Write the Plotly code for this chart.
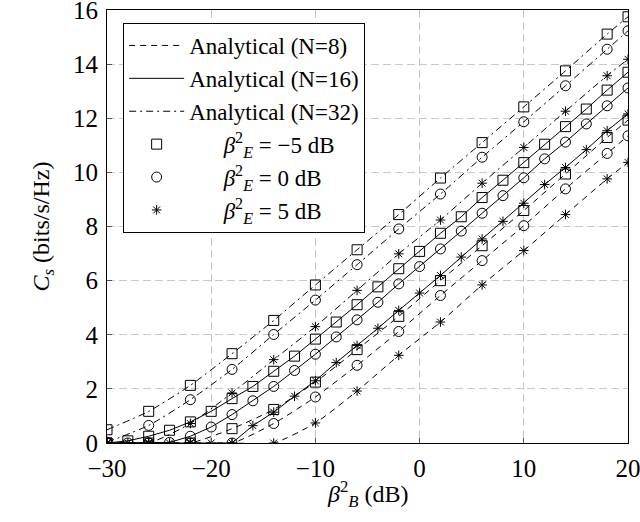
import plotly.graph_objects as go

# --- Data ---
# N=16 curves have a mark every 2 dB
x_dense = [-30, -28, -26, -24, -22, -20, -18, -16, -14, -12, -10, -8, -6,
           -4, -2, 0, 2, 4, 6, 8, 10, 12, 14, 16, 18, 20]
n16_sq = [0, 0.08, 0.25, 0.47, 0.78, 1.17, 1.64, 2.09, 2.65, 3.21, 3.84, 4.47, 5.11,
          5.77, 6.44, 7.08, 7.75, 8.36, 9.07, 9.71, 10.36, 11.04, 11.69, 12.34, 13.04, 13.70]
n16_circ = [0, 0, 0, 0.02, 0.25, 0.59, 1.05, 1.56, 2.09, 2.68, 3.28, 3.92, 4.55,
            5.20, 5.88, 6.52, 7.17, 7.83, 8.49, 9.14, 9.80, 10.50, 11.12, 11.79, 12.46, 13.12]
n16_star = [0, 0, 0, 0, 0, 0, 0, 0.64, 1.14, 1.73, 2.30, 2.97, 3.60,
            4.24, 4.90, 5.54, 6.19, 6.87, 7.54, 8.19, 8.86, 9.55, 10.18, 10.84, 11.54, 12.16]

# N=8 and N=32 curves: marks every 4 dB plus the end point
x_sparse = [-30, -26, -22, -18, -14, -10, -6, -2, 2, 6, 10, 14, 18, 20]
n8_sq = [0, 0, 0, 0.53, 1.24, 2.25, 3.45, 4.68, 6.00, 7.29, 8.59, 9.94, 11.29, 11.93]
n8_circ = [0, 0, 0, 0, 0.72, 1.70, 2.87, 4.12, 5.45, 6.74, 8.03, 9.39, 10.70, 11.35]
n8_star = [0, 0, 0, 0, 0, 0.74, 1.92, 3.24, 4.47, 5.84, 7.11, 8.44, 9.76, 10.37]
n32_sq = [0.49, 1.17, 2.13, 3.30, 4.53, 5.84, 7.14, 8.44, 9.79, 11.10, 12.42, 13.75, 15.11, 15.75]
n32_circ = [0.03, 0.65, 1.60, 2.72, 4.01, 5.28, 6.59, 7.91, 9.20, 10.56, 11.87, 13.20, 14.55, 15.23]
n32_star = [0, 0, 0.72, 1.85, 3.08, 4.30, 5.64, 6.99, 8.24, 9.60, 10.92, 12.26, 13.57, 14.18]

x_ticks = [-30, -20, -10, 0, 10, 20]
x_tick_text = ["\u221230", "\u221220", "\u221210", "0", "10", "20"]
y_ticks = [0, 2, 4, 6, 8, 10, 12, 14, 16]

beta_labels = ["\u22125", "0", "5"]
n_labels = ["8", "16", "32"]

# --- Styles ---
FONT = "Liberation Serif, Times New Roman, serif"
dashes = {"8": "6px,5px", "16": "solid", "32": "7px,4px,2px,4px"}
symbols = ["square-open", "circle-open", "asterisk-open"]
sizes = [10, 10, 8]

curves = {
    "8": (x_sparse, [n8_sq, n8_circ, n8_star]),
    "16": (x_dense, [n16_sq, n16_circ, n16_star]),
    "32": (x_sparse, [n32_sq, n32_circ, n32_star]),
}

fig = go.Figure()

# Lines (one legend entry per N)
for n in n_labels:
    xs, ys_list = curves[n]
    for i, ys in enumerate(ys_list):
        fig.add_trace(go.Scatter(
            x=xs, y=ys, mode="lines",
            line=dict(color="black", width=1, dash=dashes[n],
                      shape="linear" if n == "16" else "spline", smoothing=0.6),
            name=f"Analytical (N={n})", showlegend=(i == 0),
            legendgroup="N" + n
        ))

# Markers (one legend entry per beta_E)
for i, b in enumerate(beta_labels):
    for n in n_labels:
        xs, ys_list = curves[n]
        fig.add_trace(go.Scatter(
            x=xs, y=ys_list[i], mode="markers",
            marker=dict(symbol=symbols[i], size=sizes[i], color="black",
                        line=dict(color="black", width=1)),
            name=f"\u2003\u2002<i>\u03b2</i><sup>2</sup><sub><i>E</i></sub> = {b} dB",
            showlegend=(n == "16"), legendgroup="b" + b
        ))

axis_common = dict(
    showline=True, linecolor="black", linewidth=1.2, mirror=True,
    ticks="inside", ticklen=5, tickcolor="#555",
    showgrid=True, gridcolor="#c8c8c8", griddash="8px,4px", gridwidth=1,
    zeroline=False, automargin=False, ticklabeloverflow="allow",
    ticklabelstandoff=3,
    tickfont=dict(family=FONT, size=25, color="black"),
)

fig.update_layout(
    width=640, height=522,
    paper_bgcolor="white", plot_bgcolor="white",
    margin=dict(l=107, r=12, t=10, b=79),
    font=dict(family=FONT, size=24, color="black"),
    xaxis=dict(range=[-30, 20], tickvals=x_ticks, ticktext=x_tick_text, **axis_common),
    yaxis=dict(
        range=[0, 16], tickvals=y_ticks,
        title=dict(text="<i>C<sub>s</sub></i> (bits/s/Hz)",
                   font=dict(family=FONT, size=24), standoff=16),
        **axis_common
    ),
    legend=dict(
        x=0.031, y=0.97, xanchor="left", yanchor="top",
        bgcolor="white", bordercolor="black", borderwidth=1,
        font=dict(family=FONT, size=23), tracegroupgap=0,
        itemwidth=55
    ),
    showlegend=True,
)

# x-axis title as an annotation so it sits where the reference has it
fig.add_annotation(
    text="<i>\u03b2</i><sup>2</sup><sub><i>B</i></sub> (dB)",
    xref="paper", yref="paper", x=0.5, y=-0.117,
    xanchor="center", yanchor="middle", showarrow=False,
    font=dict(family=FONT, size=24, color="black")
)

# drop the default body margin so the 640x522 figure fills the window
fig.write_html("out.html", config={"displayModeBar": False},
               post_script="document.body.style.margin='0';")
